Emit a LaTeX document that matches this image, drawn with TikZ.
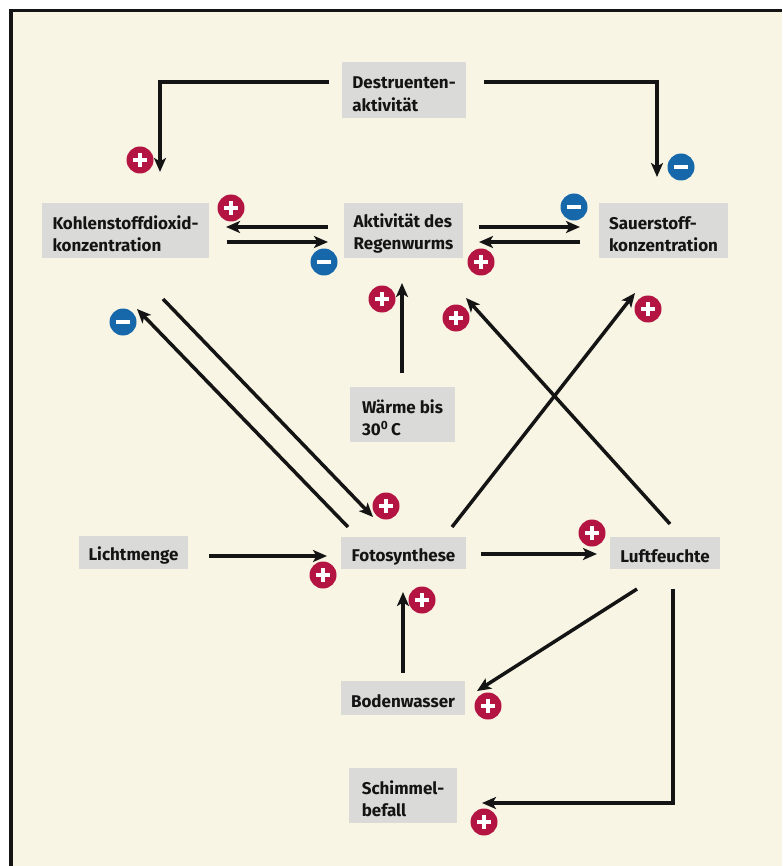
\documentclass[tikz,border=0pt]{standalone}
\usepackage{fontspec}
\setmainfont{Fira Sans}[UprightFont={* SemiBold}, BoldFont={* Bold}]
\usetikzlibrary{arrows.meta,calc}
\definecolor{cream}{RGB}{249,245,229}
\definecolor{boxgray}{RGB}{218,218,216}
\definecolor{pluscol}{RGB}{180,20,65}
\definecolor{minuscol}{RGB}{22,104,170}
\definecolor{ink}{RGB}{20,20,20}
\newcommand\myStrut{\rule{0pt}{20pt}}
\begin{document}
\begin{tikzpicture}[x=1pt,y=-1pt,
  box/.style={rectangle, fill=boxgray, inner xsep=8, inner ysep=0, align=left,
    text=ink, font=\fontsize{17}{22.5}\selectfont\bfseries},
  conn/.style={draw=ink, line width=3.5, -{Stealth[length=14,width=12,inset=3.5]}},
  plus/.style={circle, fill=pluscol, minimum size=27, inner sep=0,
    path picture={\draw[white,line width=4]
      ($(path picture bounding box.center)+(-7,0)$) -- ++(14,0)
      ($(path picture bounding box.center)+(0,-7)$) -- ++(0,14);}},
  minus/.style={circle, fill=minuscol, minimum size=27, inner sep=0,
    path picture={\draw[white,line width=4]
      ($(path picture bounding box.center)+(-7,0)$) -- ++(14,0);}}
]
\useasboundingbox (0,0) rectangle (782,866);
\fill[white] (0,0) rectangle (782,866);
\fill[cream] (12.5,12) rectangle (782,866);
\draw[ink, line width=3.4] (11,866) -- (11,10.5) -- (782,10.5);

% boxes
\node[box, minimum width=124, minimum height=56] (dest) at (404,90) {\myStrut Destruenten-\\aktivität};
\node[box, minimum width=167, minimum height=55] (kohl) at (125.5,230.5) {\myStrut Kohlenstoffdioxid-\\konzentration};
\node[box, minimum width=119, minimum height=55] (akt) at (403.5,230.5) {\myStrut Aktivität des\\Regenwurms};
\node[box, minimum width=129, minimum height=55] (sauer) at (663.5,230.5) {\myStrut Sauerstoff-\\konzentration};
\node[box, minimum width=105, minimum height=55] (waerme) at (402.5,414.5) {\myStrut Wärme bis\\30\textsuperscript{0}\,C};
\node[box, minimum width=109, minimum height=33] (licht) at (133.5,552.5) {\myStrut Lichtmenge};
\node[box, minimum width=125, minimum height=32] (foto) at (403.5,553) {\myStrut Fotosynthese};
\node[box, minimum width=110, minimum height=32] (luft) at (665,553) {\myStrut Luftfeuchte};
\node[box, minimum width=124, minimum height=34] (boden) at (403,698) {\myStrut Bodenwasser};
\node[box, minimum width=108, minimum height=55] (schim) at (403,795.5) {\myStrut Schimmel-\\befall};

% connector end points
\coordinate (d1) at (329,82);   \coordinate (k1) at (160,172);
\coordinate (d2) at (484,82);   \coordinate (s1) at (657,177);
\coordinate (a1) at (328,227);  \coordinate (k2) at (226,227);
\coordinate (k3) at (227,242);  \coordinate (a2) at (328,242);
\coordinate (a3) at (479,227);  \coordinate (s2) at (580,227);
\coordinate (s3) at (580,242);  \coordinate (a4) at (479,242);
\coordinate (w1) at (402,373);  \coordinate (a5) at (402,283);
\coordinate (f1) at (348,527);  \coordinate (k4) at (137,309);
\coordinate (k5) at (163,299);  \coordinate (f2) at (373,517);
\coordinate (f3) at (452,527);  \coordinate (s4) at (635,293);
\coordinate (l1) at (670,524);  \coordinate (a6) at (466,298);
\coordinate (li1) at (209,556); \coordinate (f4) at (327,556);
\coordinate (f5) at (481,554);  \coordinate (l2) at (597,554);
\coordinate (b1) at (403,673);  \coordinate (f6) at (403,592);
\coordinate (l3) at (637,589);  \coordinate (b2) at (477,691);
\coordinate (l4) at (673,589);  \coordinate (sc1) at (482,803);

\draw[conn] (d1) -| (k1);
\draw[conn] (d2) -| (s1);
\draw[conn] (a1) -- (k2);
\draw[conn] (k3) -- (a2);
\draw[conn] (a3) -- (s2);
\draw[conn] (s3) -- (a4);
\draw[conn] (w1) -- (a5);
\draw[conn] (f1) -- (k4);
\draw[conn] (k5) -- (f2);
\draw[conn] (f3) -- (s4);
\draw[conn] (l1) -- (a6);
\draw[conn] (li1) -- (f4);
\draw[conn] (f5) -- (l2);
\draw[conn] (b1) -- (f6);
\draw[conn] (l3) -- (b2);
\draw[conn] (l4) |- (sc1);

% signs
\node[plus]  (p1) at (140,160) {};
\node[minus] (m1) at (681,167) {};
\node[plus]  (p2) at (231,208) {};
\node[minus] (m2) at (324,262) {};
\node[minus] (m3) at (574,207) {};
\node[plus]  (p3) at (481,262) {};
\node[plus]  (p4) at (382,299) {};
\node[minus] (m4) at (123,322) {};
\node[plus]  (p5) at (456,318) {};
\node[plus]  (p6) at (648,309) {};
\node[plus]  (p7) at (386,506) {};
\node[plus]  (p8) at (323,575) {};
\node[plus]  (p9) at (592,533) {};
\node[plus]  (p10) at (422,600) {};
\node[plus]  (p11) at (488,706) {};
\node[plus]  (p12) at (484,822) {};
\end{tikzpicture}
\end{document}
